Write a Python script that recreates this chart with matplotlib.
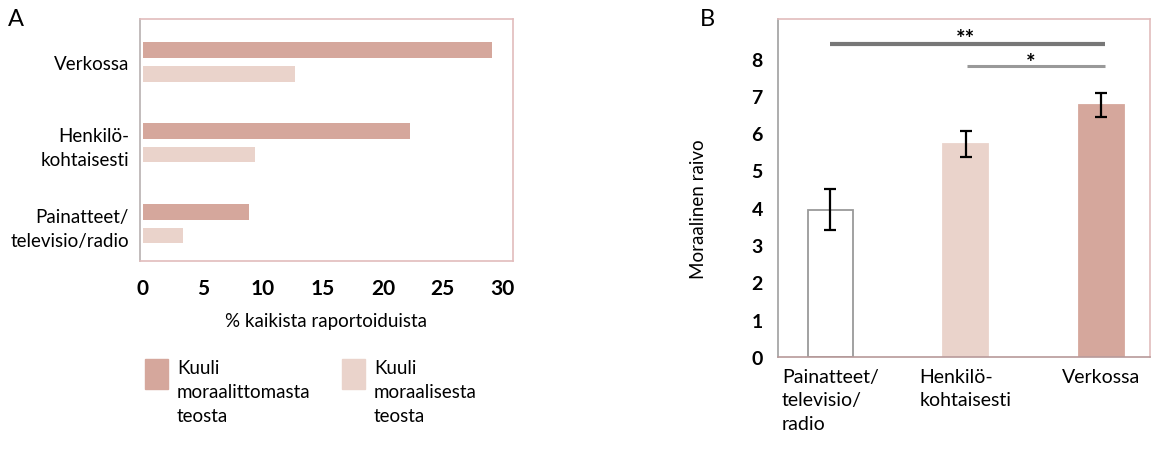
import matplotlib.pyplot as plt
from matplotlib.patches import Rectangle

plt.rcParams['font.family'] = ['Lato', 'DejaVu Sans']

# Paneeli A: osuus kaikista raportoiduista (%)
lahteet_a = ['Verkossa', 'Henkilö-\nkohtaisesti', 'Painatteet/\ntelevisio/radio']
moraaliton = [29.1, 22.3, 8.8]
moraalinen = [12.7, 9.3, 3.3]

# Paneeli B: moraalinen raivo lähteittäin (keskiarvo ja virhe)
lahteet_b = ['Painatteet/\ntelevisio/\nradio', 'Henkilö-\nkohtaisesti', 'Verkossa']
raivo = [3.95, 5.7, 6.75]
raivo_virhe = [0.55, 0.35, 0.33]

legend_labels = ['Kuuli\nmoraalittomasta\nteosta', 'Kuuli\nmoraalisesta\nteosta']

tumma = '#d5a79c'
vaalea = '#ead3cb'
reuna = '#e2bcbc'

fig = plt.figure(figsize=(11.53, 4.52), dpi=100)

# --- A ---
ax1 = fig.add_axes([0.1214, 0.4204, 0.3235, 0.5354])
pos = list(range(len(lahteet_a)))
ax1.barh([p - 0.148 for p in pos], moraaliton, height=0.2, color=tumma)
ax1.barh([p + 0.148 for p in pos], moraalinen, height=0.19, color=vaalea)
ax1.set_ylim(2.46, -0.53)
ax1.set_xlim(-0.25, 30.85)
ax1.set_yticks(pos)
ax1.set_yticklabels(lahteet_a, fontsize=13.5, ha='right', linespacing=1.45)
ax1.set_xticks([0, 5, 10, 15, 20, 25, 30])
ax1.tick_params(axis='x', labelsize=15, length=0, pad=12)
ax1.tick_params(axis='y', length=0, pad=8)
for lbl in ax1.get_xticklabels():
    lbl.set_fontweight('bold')
ax1.set_xlabel('% kaikista raportoiduista', fontsize=13.5, labelpad=10)
for s in ['top', 'right', 'bottom']:
    ax1.spines[s].set_color(reuna)
ax1.spines['left'].set_color('#b8b0b0')
for s in ax1.spines.values():
    s.set_linewidth(1.2)

# selite käsin kuvan alle
W, H = 1153, 452
for (x0, x1, col, txt) in [(145, 168, tumma, legend_labels[0]),
                            (342, 365, vaalea, legend_labels[1])]:
    fig.add_artist(Rectangle((x0 / W, 1 - 390 / H), (x1 - x0) / W, 30 / H,
                             transform=fig.transFigure, color=col))
    fig.text((x1 + 9) / W, 1 - 360 / H, txt, fontsize=13.5, va='top', ha='left',
             linespacing=1.5)

fig.text(8 / W, 1 - 19 / H, 'A', fontsize=17, va='center', ha='left')

# --- B ---
ax2 = fig.add_axes([0.6748, 0.208, 0.3226, 0.7478])
xb = list(range(len(lahteet_b)))
ax2.bar(xb, raivo, width=0.33, color=['white', vaalea, tumma],
        edgecolor=['#9a9a9a', vaalea, tumma], linewidth=1.3)
ax2.errorbar(xb, raivo, yerr=raivo_virhe, fmt='none', ecolor='black',
             elinewidth=1.6, capsize=4, capthick=1.6)
ax2.set_xlim(-0.385, 2.36)
ax2.set_ylim(0, 9.06)
ax2.set_yticks(range(0, 9))
ax2.tick_params(axis='y', labelsize=14, length=0, pad=11)
for lbl in ax2.get_yticklabels():
    lbl.set_fontweight('bold')
ax2.set_xticks(xb)
ax2.set_xticklabels(lahteet_b, fontsize=14, multialignment='left', linespacing=1.45)
ax2.tick_params(axis='x', length=0, pad=8)
ax2.set_ylabel('Moraalinen raivo', fontsize=13.5)
ax2.yaxis.set_label_coords(-0.19, 0.44)

# merkitsevyysviivat
ax2.plot([0, 2.03], [8.39, 8.39], color='#777777', lw=3.0, solid_capstyle='butt')
ax2.plot([1.01, 2.03], [7.8, 7.8], color='#999999', lw=2.2, solid_capstyle='butt')
ax2.text(1.0, 8.25, '**', ha='center', va='bottom', fontsize=16, fontweight='bold')
ax2.text(1.48, 7.6, '*', ha='center', va='bottom', fontsize=16, fontweight='bold')

for s in ['top', 'right']:
    ax2.spines[s].set_color(reuna)
ax2.spines['left'].set_color('#a0a0a0')
ax2.spines['bottom'].set_color('#b89a9a')
for s in ax2.spines.values():
    s.set_linewidth(1.2)

fig.text(700 / W, 1 - 19 / H, 'B', fontsize=17, va='center', ha='left')

plt.savefig('out.png', dpi=100)
plt.close()
